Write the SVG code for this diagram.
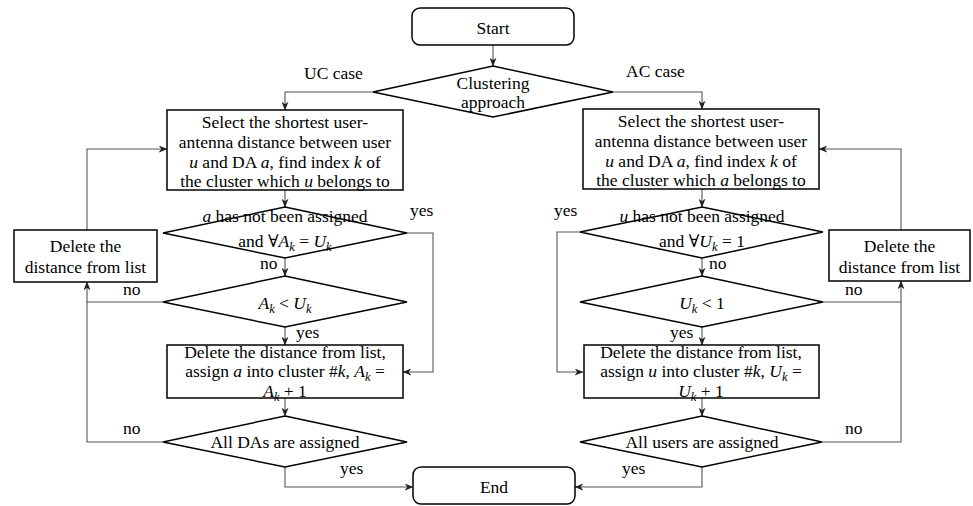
<svg xmlns="http://www.w3.org/2000/svg" width="973" height="506" viewBox="0 0 973 506" font-family="Liberation Serif, Tinos, Noto Serif, DejaVu Serif, FreeSerif, serif">
<style>
.n{fill:#fff;stroke:#000;stroke-width:1.5}
.t{font-size:17.5px;fill:#000;text-anchor:middle}
.l{font-size:17.5px;fill:#000}
.i{font-style:italic}
.s{font-style:italic;font-size:12.5px}
.c{fill:none;stroke:#555;stroke-width:1.1}
</style>
<defs>
<marker id="a" viewBox="0 0 10 8" refX="9.5" refY="4" markerWidth="9" markerHeight="7" markerUnits="userSpaceOnUse" orient="auto">
<path d="M0,0 L10,4 L0,8 L3,4 z" fill="#222"/>
</marker>
</defs>
<rect width="973" height="506" fill="#fff"/>
<g id="connectors">
<path class="c" d="M493,45 V66" marker-end="url(#a)"/>
<path class="c" d="M373,92 H285 V110" marker-end="url(#a)"/>
<path class="c" d="M613,92 H702 V109" marker-end="url(#a)"/>
<path class="c" d="M285,190 V207" marker-end="url(#a)"/>
<path class="c" d="M407,233 H433 V372 H403" marker-end="url(#a)"/>
<path class="c" d="M285,258 V276" marker-end="url(#a)"/>
<path class="c" d="M285,327 V345" marker-end="url(#a)"/>
<path class="c" d="M163,302 H87 V282" marker-end="url(#a)"/>
<path class="c" d="M163,442 H87 V302"/>
<path class="c" d="M87,230 V149 H167" marker-end="url(#a)"/>
<path class="c" d="M285,398 V416" marker-end="url(#a)"/>
<path class="c" d="M285,467 V487 H413" marker-end="url(#a)"/>
<path class="c" d="M702,189 V207" marker-end="url(#a)"/>
<path class="c" d="M580,232 H557 V372 H583" marker-end="url(#a)"/>
<path class="c" d="M702,258 V276" marker-end="url(#a)"/>
<path class="c" d="M702,327 V345" marker-end="url(#a)"/>
<path class="c" d="M823,302 H901 V281" marker-end="url(#a)"/>
<path class="c" d="M822,442 H901 V302"/>
<path class="c" d="M901,230 V149 H819" marker-end="url(#a)"/>
<path class="c" d="M702,398 V416" marker-end="url(#a)"/>
<path class="c" d="M702,467 V487 H575" marker-end="url(#a)"/>
</g>
<g id="labels">
<text class="l" x="304" y="79">UC case</text>
<text class="l" x="626" y="77">AC case</text>
<text class="l" x="410" y="216">yes</text>
<text class="l" x="260" y="269">no</text>
<text class="l" x="123" y="295">no</text>
<text class="l" x="296" y="338">yes</text>
<text class="l" x="123" y="434">no</text>
<text class="l" x="340" y="474">yes</text>
<text class="l" x="554" y="216">yes</text>
<text class="l" x="709" y="269">no</text>
<text class="l" x="845" y="295">no</text>
<text class="l" x="670" y="338">yes</text>
<text class="l" x="845" y="434">no</text>
<text class="l" x="622" y="474">yes</text>
</g>
<g id="start">
<rect class="n" x="412" y="8" width="162" height="37" rx="8"/>
<text class="t" x="493" y="34">Start</text>
</g>
<g id="approach">
<polygon class="n" points="493,66 613,92 493,117 373,92"/>
<text class="t" x="493" y="89">Clustering</text>
<text class="t" x="493" y="108">approach</text>
</g>
<g id="uc-select">
<rect class="n" x="167" y="110" width="236" height="80"/>
<text class="t" x="285" y="128">Select the shortest user-</text>
<text class="t" x="285" y="148">antenna distance between user</text>
<text class="t" x="285" y="168"><tspan class="i">u</tspan> and DA <tspan class="i">a</tspan>, find index <tspan class="i">k</tspan> of</text>
<text class="t" x="285" y="187">the cluster which <tspan class="i">u</tspan> belongs to</text>
</g>
<g id="uc-check1">
<polygon class="n" points="285,207 407,233 285,258 163,233"/>
<text class="t" x="285" y="222"><tspan class="i">a</tspan> has not been assigned</text>
<text class="t" x="285" y="247">and ∀<tspan class="i">A</tspan><tspan class="s" dy="4">k</tspan><tspan dy="-4"> = </tspan><tspan class="i">U</tspan><tspan class="s" dy="4">k</tspan></text>
</g>
<g id="uc-check2">
<polygon class="n" points="285,276 407,302 285,327 163,302"/>
<text class="t" x="285" y="309"><tspan class="i">A</tspan><tspan class="s" dy="4">k</tspan><tspan dy="-4"> &lt; </tspan><tspan class="i">U</tspan><tspan class="s" dy="4">k</tspan></text>
</g>
<g id="uc-delete">
<rect class="n" x="14" y="230" width="143" height="52"/>
<text class="t" x="85.5" y="252">Delete the</text>
<text class="t" x="85.5" y="273">distance from list</text>
</g>
<g id="uc-assign">
<rect class="n" x="167" y="345" width="236" height="53"/>
<text class="t" x="285" y="358">Delete the distance from list,</text>
<text class="t" x="285" y="377">assign <tspan class="i">a</tspan> into cluster #<tspan class="i">k</tspan>, <tspan class="i">A</tspan><tspan class="s" dy="4">k</tspan><tspan dy="-4"> =</tspan></text>
<text class="t" x="285" y="397"><tspan class="i">A</tspan><tspan class="s" dy="4">k</tspan><tspan dy="-4"> + 1</tspan></text>
</g>
<g id="uc-all">
<polygon class="n" points="285,416 407,442 285,467 163,442"/>
<text class="t" x="285" y="448">All DAs are assigned</text>
</g>
<g id="ac-select">
<rect class="n" x="583" y="109" width="236" height="80"/>
<text class="t" x="701" y="127">Select the shortest user-</text>
<text class="t" x="701" y="147">antenna distance between user</text>
<text class="t" x="701" y="167"><tspan class="i">u</tspan> and DA <tspan class="i">a</tspan>, find index <tspan class="i">k</tspan> of</text>
<text class="t" x="701" y="186">the cluster which <tspan class="i">a</tspan> belongs to</text>
</g>
<g id="ac-check1">
<polygon class="n" points="702,207 823,232 702,258 580,232"/>
<text class="t" x="702" y="222"><tspan class="i">u</tspan> has not been assigned</text>
<text class="t" x="702" y="247">and ∀<tspan class="i">U</tspan><tspan class="s" dy="4">k</tspan><tspan dy="-4"> = 1</tspan></text>
</g>
<g id="ac-check2">
<polygon class="n" points="702,276 823,302 702,327 580,302"/>
<text class="t" x="702" y="309"><tspan class="i">U</tspan><tspan class="s" dy="4">k</tspan><tspan dy="-4"> &lt; 1</tspan></text>
</g>
<g id="ac-delete">
<rect class="n" x="829" y="230" width="141" height="51"/>
<text class="t" x="899.5" y="252">Delete the</text>
<text class="t" x="899.5" y="273">distance from list</text>
</g>
<g id="ac-assign">
<rect class="n" x="584" y="345" width="235" height="53"/>
<text class="t" x="701" y="358">Delete the distance from list,</text>
<text class="t" x="701" y="377">assign <tspan class="i">u</tspan> into cluster #<tspan class="i">k</tspan>, <tspan class="i">U</tspan><tspan class="s" dy="4">k</tspan><tspan dy="-4"> =</tspan></text>
<text class="t" x="701" y="397"><tspan class="i">U</tspan><tspan class="s" dy="4">k</tspan><tspan dy="-4"> + 1</tspan></text>
</g>
<g id="ac-all">
<polygon class="n" points="702,416 822,442 702,467 580,442"/>
<text class="t" x="702" y="448">All users are assigned</text>
</g>
<g id="end">
<rect class="n" x="413" y="467" width="162" height="37" rx="8"/>
<text class="t" x="494" y="493">End</text>
</g>
</svg>
